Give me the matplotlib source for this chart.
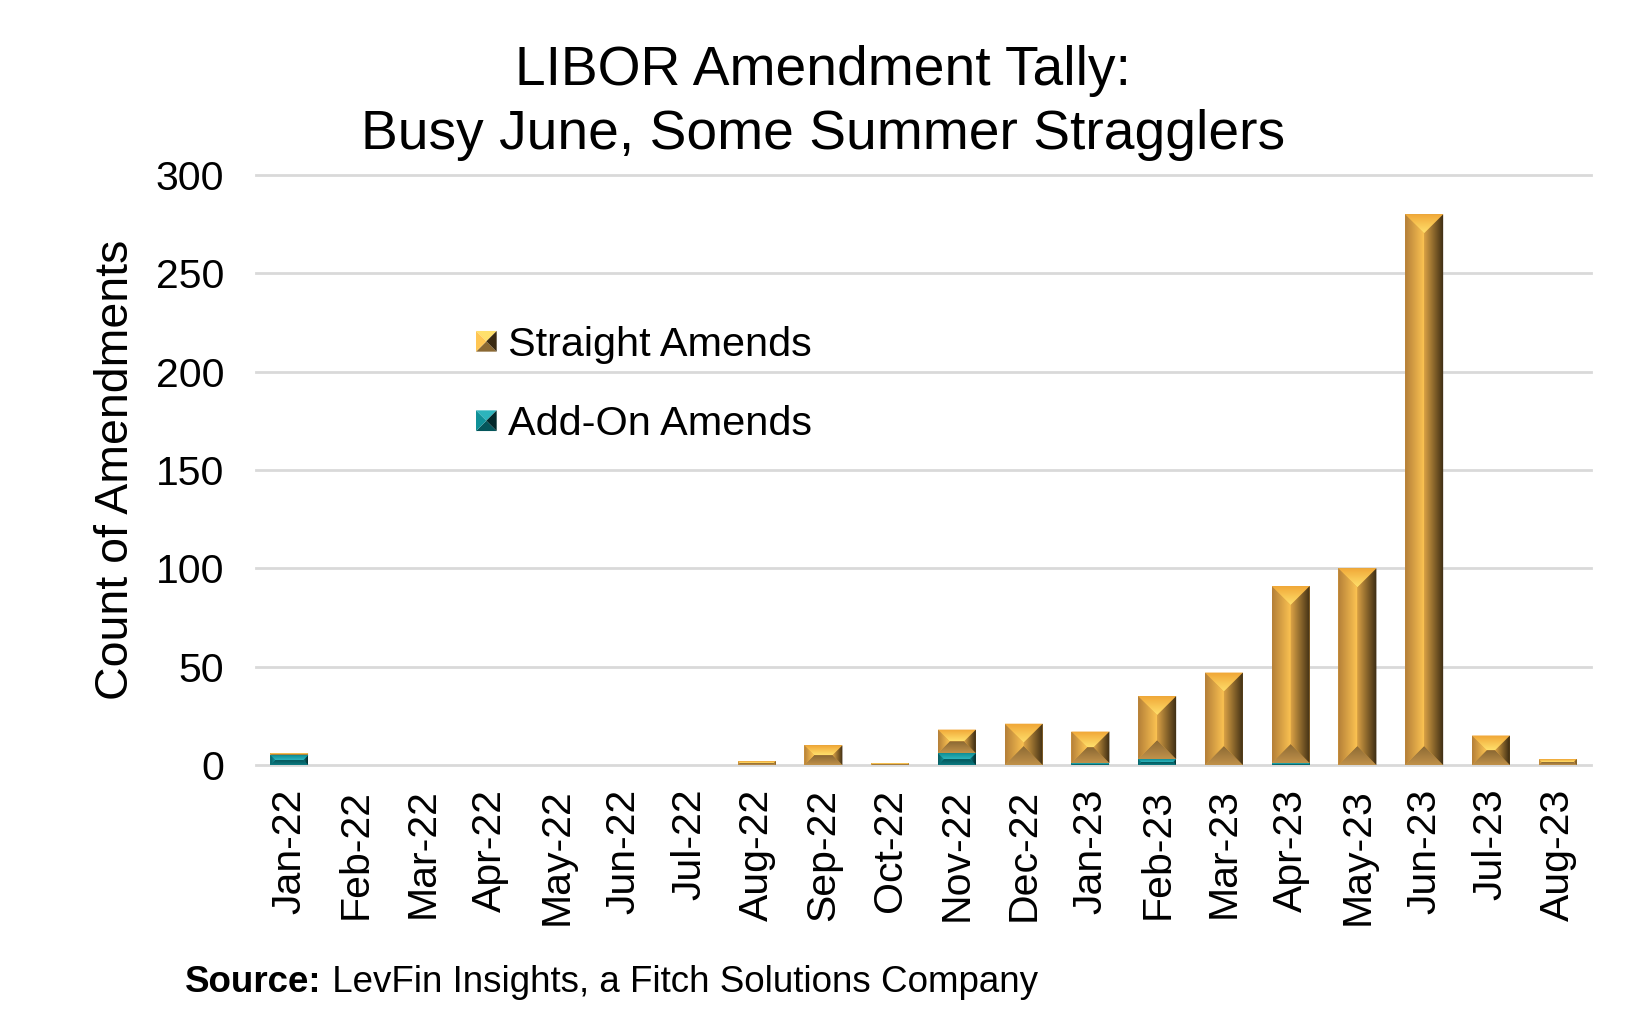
import matplotlib
matplotlib.use('Agg')
import matplotlib.pyplot as plt
import numpy as np
from matplotlib.patches import Polygon
from matplotlib.legend_handler import HandlerBase
from matplotlib.colors import to_rgb

# ---------------- data ----------------
months = ['Jan-22', 'Feb-22', 'Mar-22', 'Apr-22', 'May-22', 'Jun-22', 'Jul-22',
          'Aug-22', 'Sep-22', 'Oct-22', 'Nov-22', 'Dec-22', 'Jan-23', 'Feb-23',
          'Mar-23', 'Apr-23', 'May-23', 'Jun-23', 'Jul-23', 'Aug-23']
addon_amends = [5, 0, 0, 0, 0, 0, 0, 0, 0, 0, 6, 0, 1, 3, 0, 1, 0, 0, 0, 0]
straight_amends = [1, 0, 0, 0, 0, 0, 0, 2, 10, 1, 12, 21, 16, 32, 47, 90, 100, 280, 15, 3]
y_ticks = [0, 50, 100, 150, 200, 250, 300]
series_labels = ['Straight Amends', 'Add-On Amends']
title_lines = ['LIBOR Amendment Tally:', 'Busy June, Some Summer Stragglers']
y_label = 'Count of Amendments'
source_bold = 'Source:'
source_rest = ' LevFin Insights, a Fitch Solutions Company'

# ---------------- style ----------------
plt.rcParams['font.family'] = ['Liberation Sans', 'DejaVu Sans']

# face colours: (outer edge colour, inner colour)
GOLD = dict(base='#E0A443',
            top=('#F0A535', '#FFE06C'),
            left=('#B47F38', '#FFC653'),
            right=('#3A2A12', '#D9A145'),
            bottom=('#C0914A', '#8A6833'))
TEAL = dict(base='#0E8A90',
            top=('#0F8E95', '#2DB4BC'),
            left=('#0A5C60', '#109198'),
            right=('#02282A', '#0B7A80'),
            bottom=('#0C7B81', '#05565B'))

W, H, DPI = 1628, 1024, 100
fig = plt.figure(figsize=(W / DPI, H / DPI), dpi=DPI)
ax = fig.add_axes([256 / W, 1 - 765 / H, (1591 - 256) / W, (765 - 175) / H])

x = np.arange(len(months))
bar_w = 0.57
addon = np.array(addon_amends, dtype=float)
straight = np.array(straight_amends, dtype=float)

b_add = ax.bar(x, addon, width=bar_w, color=TEAL['base'], zorder=2, linewidth=0)
b_str = ax.bar(x, straight, bottom=addon, width=bar_w, color=GOLD['base'], zorder=2, linewidth=0)

ax.set_xlim(-0.5, len(months) - 0.5)
ax.set_ylim(0, 300)

# pixel scale for bevel geometry
p0 = ax.transData.transform((0, 0))
px_x = ax.transData.transform((1, 0))[0] - p0[0]
px_y = ax.transData.transform((0, 1))[1] - p0[1]


def grad_img(c_outer, c_inner, n=64):
    t = np.linspace(0, 1, n)[:, None]
    co = np.array(to_rgb(c_outer))[None, :]
    ci = np.array(to_rgb(c_inner))[None, :]
    return co * (1 - t) + ci * t  # index 0 = outer


def bevel(rect, cols):
    x0, y0 = rect.get_x(), rect.get_y()
    w, h = rect.get_width(), rect.get_height()
    if h <= 0:
        return
    x1, y1 = x0 + w, y0 + h
    d = min(w * px_x, h * px_y) / 2.0
    dx, dy = d / px_x, d / px_y
    faces = {
        'top': ([(x0, y1), (x1, y1), (x1 - dx, y1 - dy), (x0 + dx, y1 - dy)],
                (x0, x1, y1 - dy, y1)),
        'bottom': ([(x0, y0), (x1, y0), (x1 - dx, y0 + dy), (x0 + dx, y0 + dy)],
                   (x0, x1, y0, y0 + dy)),
        'left': ([(x0, y0), (x0 + dx, y0 + dy), (x0 + dx, y1 - dy), (x0, y1)],
                 (x0, x0 + dx, y0, y1)),
        'right': ([(x1, y0), (x1 - dx, y0 + dy), (x1 - dx, y1 - dy), (x1, y1)],
                  (x1 - dx, x1, y0, y1)),
    }
    for name, (poly, ext) in faces.items():
        g = grad_img(*cols[name])
        if name == 'top':
            img = g[::-1][:, None, :]
        elif name == 'bottom':
            img = g[:, None, :]
        elif name == 'left':
            img = g[None, :, :]
        else:
            img = g[::-1][None, :, :]
        clip = Polygon(poly, closed=True, transform=ax.transData)
        im = ax.imshow(img, extent=ext, origin='lower', aspect='auto',
                       interpolation='bilinear', zorder=3)
        im.set_clip_path(clip)


for r in b_add.patches:
    bevel(r, TEAL)
for r in b_str.patches:
    bevel(r, GOLD)

ax.set_xlim(-0.5, len(months) - 0.5)
ax.set_ylim(0, 300)
ax.set_aspect('auto')

# axes styling
for s in ax.spines.values():
    s.set_visible(False)
ax.set_yticks(y_ticks)
ax.set_xticks(x)
ax.set_xticklabels(months, rotation=90)
ax.tick_params(axis='both', length=0, labelsize=29.5, colors='black')
ax.tick_params(axis='y', pad=23)
ax.tick_params(axis='x', pad=17)
ax.yaxis.grid(True, color='#D9D9D9', linewidth=2.0)
ax.xaxis.grid(False)
ax.set_axisbelow(True)
for gl in ax.get_ygridlines():
    gl.set_clip_on(False)


# legend with bevelled squares
class BevelHandler(HandlerBase):
    def __init__(self, cols):
        super().__init__()
        self.cols = cols

    def create_artists(self, legend, orig_handle, xdescent, ydescent,
                       width, height, fontsize, trans):
        s = min(width, height)
        x0 = -xdescent + (width - s) / 2
        y0 = -ydescent + (height - s) / 2
        cx, cy = x0 + s / 2, y0 + s / 2
        c = self.cols
        polys = [
            ([(x0, y0 + s), (x0 + s, y0 + s), (cx, cy)], c['top'][1]),
            ([(x0, y0), (x0 + s, y0), (cx, cy)], c['bottom'][1]),
            ([(x0, y0), (x0, y0 + s), (cx, cy)], c['left'][1]),
            ([(x0 + s, y0), (x0 + s, y0 + s), (cx, cy)], c['right'][0]),
        ]
        return [Polygon(p, closed=True, fc=col, ec='none', transform=trans)
                for p, col in polys]


ax.legend(handles=[b_str, b_add], labels=series_labels,
          handler_map={b_str: BevelHandler(GOLD), b_add: BevelHandler(TEAL)},
          loc='upper left', bbox_to_anchor=(476 / W, 1 - 326 / H),
          bbox_transform=fig.transFigure, frameon=False, fontsize=29.8,
          handlelength=0.5, handleheight=0.5, handletextpad=0.27,
          labelspacing=1.0, borderpad=0, borderaxespad=0)

# titles and labels
fig.text(0.5055, 1 - 85 / H, title_lines[0], ha='center', va='baseline', fontsize=39.7)
fig.text(0.5055, 1 - 149 / H, title_lines[1], ha='center', va='baseline', fontsize=39.7)
fig.text(116 / W, 1 - 470 / H, y_label, rotation=90, ha='center', va='center', fontsize=33.5)

t_bold = fig.text(185 / W, 1 - 992 / H, source_bold, ha='left', va='baseline',
                  fontsize=26.5, fontweight='bold')
fig.canvas.draw()
bb = t_bold.get_window_extent()
fig.text(bb.x1 / W, 1 - 992 / H, source_rest, ha='left', va='baseline', fontsize=26.5)

fig.savefig('out.png', dpi=DPI)
